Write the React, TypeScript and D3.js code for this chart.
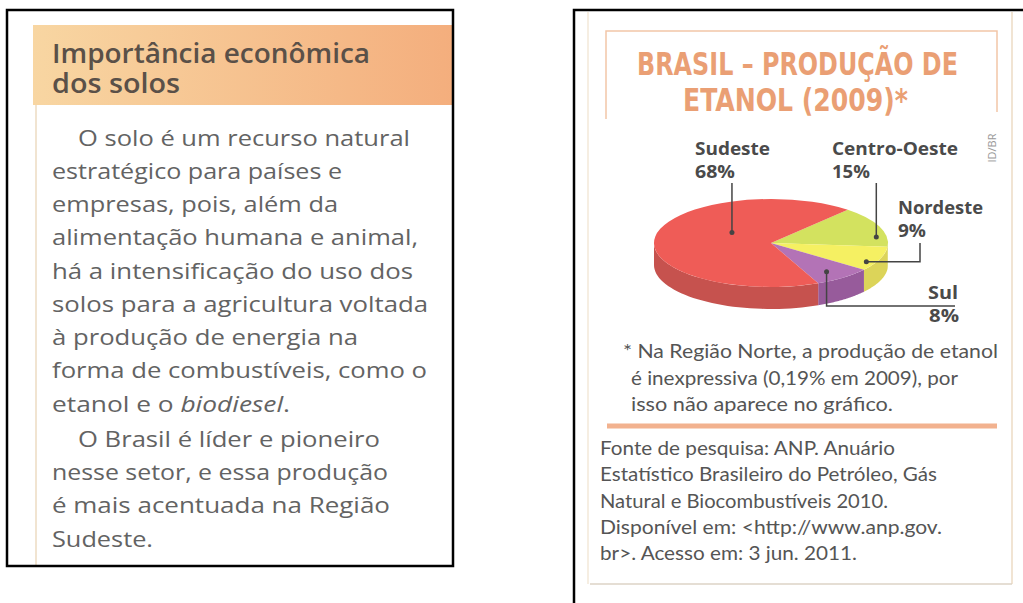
import React from 'react';
import * as d3 from 'd3';

// ---- data ----
const regions = ['Centro-Oeste', 'Nordeste', 'Sul', 'Sudeste'];
const shares = [15, 9, 8, 68];
const shareLabels = ['15%', '9%', '8%', '68%'];
const topColors = ['#d3e25f', '#f5f062', '#b373b6', '#ef5c57'];
const sideColors = ['#bccb55', '#dcd459', '#975b9b', '#c6524e'];

const titleLines = ['BRASIL – PRODUÇÃO DE', 'ETANOL (2009)*'];
const headerLines = ['Importância econômica', 'dos solos'];
const bodyLines = [
  'O solo é um recurso natural',
  'estratégico para países e',
  'empresas, pois, além da',
  'alimentação humana e animal,',
  'há a intensificação do uso dos',
  'solos para a agricultura voltada',
  'à produção de energia na',
  'forma de combustíveis, como o',
  'etanol e o |biodiesel|.',
  'O Brasil é líder e pioneiro',
  'nesse setor, e essa produção',
  'é mais acentuada na Região',
  'Sudeste.',
];
const noteLines = [
  '* Na Região Norte, a produção de etanol',
  'é inexpressiva (0,19% em 2009), por',
  'isso não aparece no gráfico.',
];
const sourceLines = [
  'Fonte de pesquisa: ANP. Anuário',
  'Estatístico Brasileiro do Petróleo, Gás',
  'Natural e Biocombustíveis 2010.',
  'Disponível em: <http://www.anp.gov.',
  'br>. Acesso em: 3 jun. 2011.',
];

// ---- layout ----
const W = 1023, H = 603;
const bodyX = 52, bodyIndentX = 78;
const bodyBaselines = [146, 179, 212, 245, 279, 312, 345, 378, 412, 447, 480, 513, 547];
const bodyIndent = [true, false, false, false, false, false, false, false, false, true, false, false, false];
const bodyEnds = [410, 342, 338, 418, 413, 428, 358, 427, 290, 380, 388, 390, 153];

const pieCx = 771, pieCy = 243, pieRx = 117, pieRy = 44, pieDepth = 22;
const pieStart = (41 * Math.PI) / 180;

const labelLayout = [
  { x: 832, y1: 155, y2: 178, frac: 0.75, rad: 0.91, w1: 126, w2: 38 },
  { x: 898, y1: 214, y2: 237, frac: 0.7, rad: 0.92, w1: 85, w2: 28 },
  { x: 928, y1: 299, y2: 322, frac: 0.58, rad: 0.81, w1: 30, w2: 30 },
  { x: 695, y1: 155, y2: 178, frac: 0.61, rad: 0.41, w1: 75, w2: 40 },
];

export default function App() {
  const pie = d3
    .pie<number>()
    .sort(null)
    .startAngle(pieStart)
    .endAngle(pieStart + 2 * Math.PI);
  const arcs = pie(shares);
  const arcGen = d3.arc<d3.PieArcDatum<number>>().innerRadius(0).outerRadius(pieRx);
  const line = d3.line();

  const ellPt = (theta: number, r = 1, dy = 0): [number, number] => [
    pieCx + pieRx * r * Math.cos(theta),
    pieCy + pieRy * r * Math.sin(theta) + dy,
  ];

  // side walls
  const sides = arcs.map((a, i) => {
    const t0 = a.startAngle - Math.PI / 2;
    const t1 = a.endAngle - Math.PI / 2;
    const lo = Math.max(t0, 0);
    const hi = Math.min(t1, Math.PI);
    if (hi <= lo) return null;
    const n = 40;
    const top: [number, number][] = [];
    const bot: [number, number][] = [];
    for (let k = 0; k <= n; k++) {
      const t = lo + ((hi - lo) * k) / n;
      top.push(ellPt(t));
      bot.push(ellPt(t, 1, pieDepth));
    }
    const pts = top.concat(bot.reverse());
    return <path key={'s' + i} d={line(pts) + 'Z'} fill={sideColors[i]} />;
  });

  const leaders = arcs.map((a, i) => {
    const L = labelLayout[i];
    const t = a.startAngle + (a.endAngle - a.startAngle) * L.frac - Math.PI / 2;
    const dot = ellPt(t, L.rad);
    let pts: [number, number][];
    if (regions[i] === 'Nordeste') pts = [dot, [920, dot[1]], [920, 243]];
    else if (regions[i] === 'Sul') pts = [dot, [dot[0], 306], [955, 306]];
    else pts = [dot, [dot[0], 183]];
    return (
      <g key={'l' + i}>
        <path d={line(pts) || ''} fill="none" stroke="#444" strokeWidth={1.5} />
        <circle cx={dot[0]} cy={dot[1]} r={2.5} fill="#444" />
      </g>
    );
  });

  const labelFont = "'Open Sans', 'Noto Sans', sans-serif";

  return (
    <svg width={W} height={H} style={{ position: 'absolute', left: 0, top: 0, background: '#fff' }}>
      <defs>
        <linearGradient id="hdr" x1="0" x2="1" y1="0" y2="0">
          <stop offset="0%" stopColor="#f8d6a2" />
          <stop offset="100%" stopColor="#f4ae7d" />
        </linearGradient>
        <linearGradient id="redside" x1="0" x2="0" y1="0" y2="1">
          <stop offset="0%" stopColor="#cf5751" />
          <stop offset="100%" stopColor="#b9524e" />
        </linearGradient>
      </defs>
      <rect x={0} y={0} width={W} height={H} fill="#fff" />

      {/* ---------- left box ---------- */}
      <rect x={33} y={25} width={420} height={80} fill="url(#hdr)" />
      <line x1={36} x2={36} y1={105} y2={566} stroke="#f1e4d1" strokeWidth={2} />
      {headerLines.map((t, i) => (
        <text
          key={'h' + i}
          x={52}
          y={i === 0 ? 63 : 93}
          fontFamily={labelFont}
          fontWeight={600}
          fontSize={27}
          fill="#5a5048"
          textLength={i === 0 ? 318 : 128}
          lengthAdjust="spacingAndGlyphs"
        >
          {t}
        </text>
      ))}
      {bodyLines.map((t, i) => {
        const x = bodyIndent[i] ? bodyIndentX : bodyX;
        const parts = t.split('|');
        return (
          <text
            key={'b' + i}
            x={x}
            y={bodyBaselines[i]}
            fontFamily={labelFont}
            fontSize={22}
            fill="#636363"
            textLength={bodyEnds[i] - x}
            lengthAdjust="spacingAndGlyphs"
          >
            {parts.map((p, j) => (
              <tspan key={j} fontStyle={j === 1 ? 'italic' : 'normal'}>
                {p}
              </tspan>
            ))}
          </text>
        );
      })}
      <rect x={7} y={10} width={446} height={556} fill="none" stroke="#000" strokeWidth={2.5} />

      {/* ---------- right box ---------- */}
      <line x1={588} x2={588} y1={12} y2={584} stroke="#f3e8d8" strokeWidth={1.5} />
      <line x1={1012} x2={1012} y1={12} y2={584} stroke="#f1e4d3" strokeWidth={2} />
      <line x1={590} x2={1012} y1={584} y2={584} stroke="#ddd3c6" strokeWidth={1.5} />

      <path d="M606,119 V31 H997 V112" fill="none" stroke="#f2c6a8" strokeWidth={1.5} />
      {titleLines.map((t, i) => (
        <text
          key={'t' + i}
          x={i === 0 ? 797.5 : 795.5}
          y={i === 0 ? 75 : 111}
          textAnchor="middle"
          fontFamily="'DejaVu Sans Condensed', 'DejaVu Sans', sans-serif"
          fontWeight="bold"
          fontSize={32}
          fill="#ea9f74"
          textLength={i === 0 ? 321 : 225}
          lengthAdjust="spacingAndGlyphs"
        >
          {t}
        </text>
      ))}
      <text
        x={993}
        y={148}
        transform="rotate(-90 993 148)"
        textAnchor="middle"
        dominantBaseline="middle"
        fontFamily={labelFont}
        fontSize={11}
        fill="#999"
      >
        ID/BR
      </text>

      {/* pie */}
      <g>{sides}</g>
      <g transform={`translate(${pieCx},${pieCy}) scale(1,${pieRy / pieRx})`}>
        {arcs.map((a, i) => (
          <path key={'p' + i} d={arcGen(a) || ''} fill={topColors[i]} />
        ))}
      </g>
      {leaders}
      {regions.map((r, i) => {
        const L = labelLayout[i];
        return (
          <g key={'lab' + i} fontFamily={labelFont} fontWeight="bold" fontSize={17} fill="#4a4a4a">
            <text x={L.x} y={L.y1} textLength={L.w1} lengthAdjust="spacingAndGlyphs">
              {r}
            </text>
            <text x={L.x + (r === 'Sul' ? 1 : 0)} y={L.y2} textLength={L.w2} lengthAdjust="spacingAndGlyphs">
              {shareLabels[i]}
            </text>
          </g>
        );
      })}

      {/* notes */}
      {noteLines.map((t, i) => (
        <text
          key={'n' + i}
          x={i === 0 ? 623 : 631}
          y={[358, 385, 411][i]}
          fontFamily="Lato, 'Open Sans', sans-serif"
          fontSize={20}
          fill="#555"
          textLength={[375, 327, 262][i]}
          lengthAdjust="spacingAndGlyphs"
        >
          {t}
        </text>
      ))}
      <line x1={607} x2={997} y1={426} y2={426} stroke="#f0a57c" strokeWidth={5} opacity={0.85} />
      {sourceLines.map((t, i) => (
        <text
          key={'f' + i}
          x={600}
          y={455 + i * 26.3}
          fontFamily="Lato, 'Open Sans', sans-serif"
          fontSize={20}
          fill="#555"
          textLength={[295, 337, 288, 342, 257][i]}
          lengthAdjust="spacingAndGlyphs"
        >
          {t}
        </text>
      ))}
      <rect x={574} y={10} width={470} height={620} fill="none" stroke="#000" strokeWidth={2.5} />
    </svg>
  );
}
